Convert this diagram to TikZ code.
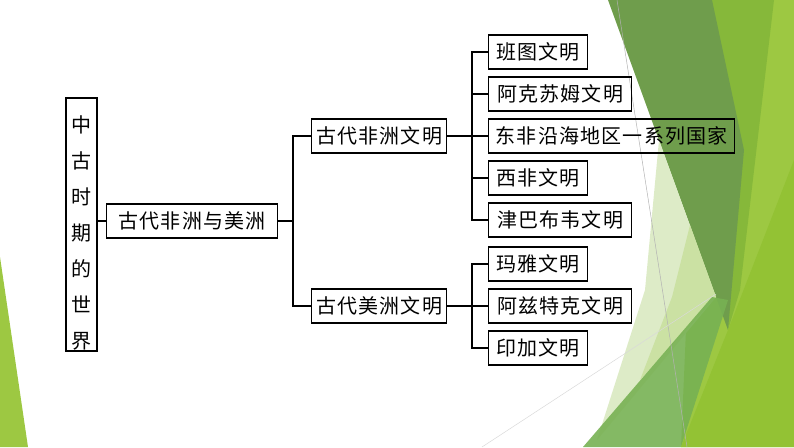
\documentclass[tikz,border=0pt]{standalone}
\usepackage{fontspec}
\newfontfamily\cjk[LetterSpace=6]{Noto Sans CJK SC}
\definecolor{leafdark}{HTML}{6F9D4C}
\definecolor{leafmid}{HTML}{86B83A}
\definecolor{leaflime}{HTML}{9DC842}
\definecolor{leafpale}{HTML}{DDEBC7}
\definecolor{leafpaler}{HTML}{CBE1A3}
\definecolor{leafgrass}{HTML}{77B153}
\definecolor{leafyellow}{HTML}{93C234}
\tikzset{
  box/.style={draw, line width=1.3pt, inner sep=0pt, minimum height=34pt, anchor=west,
    font=\cjk\fontsize{20}{24}\selectfont},
  link/.style={line width=1.3pt},
  hair/.style={line width=0.5pt, color=black!30},
}

\begin{document}
\begin{tikzpicture}[x=1pt,y=-1pt]
  \useasboundingbox (0,0) rectangle (794,447);
  %%%%% BACKGROUND %%%%%

  \fill[leaflime] (700,0) -- (794,0) -- (794,447) -- (681,447) -- cycle;
  \fill[leafmid] (712,0) -- (774,0) -- (740,290) -- (728,330) -- cycle;
  \fill[leafdark] (608,0) -- (712,0) -- (744,150) -- (728,330) -- cycle;
  \fill[leafpale] (659,140) -- (645,290) -- (597,440) -- (716,297) -- cycle;
  \fill[leafpaler] (690,225) -- (672,297) -- (640,380) -- (716,297) -- cycle;
  \fill[leafgrass, opacity=0.9] (583,447) -- (712,297) -- (728,300) -- (681,447) -- cycle;
  \fill[leafyellow] (681,447) -- (728,330) -- (794,160) -- (794,447) -- cycle;
  \fill[leaflime] (0,257) -- (0,447) -- (28,447) -- cycle;

  \draw[hair] (617,0) -- (687,447);
  \draw[hair, color=black!15] (482,447) -- (716,294);

  %%%%% TREE %%%%%

  \node[draw, line width=1.3pt, inner sep=0pt, minimum width=31pt, minimum height=253pt,
    align=center, font=\cjk\fontsize{20}{36}\selectfont] (world) at (81.5,224.5)
    {\rule{0pt}{17pt}\\[-20pt]中\\古\\时\\期\\的\\世\\界};

  \node[box, minimum width=171pt] (afram) at (106,221) {古代非洲与美洲};

  \node[box, minimum width=135pt] (africa) at (311,136) {古代非洲文明};
  \node[box, minimum width=135pt] (america) at (311,306) {古代美洲文明};

  \node[box, minimum width=99pt] (bantu) at (488,52) {班图文明};
  \node[box, minimum width=143pt] (aksum) at (488,94) {阿克苏姆文明};
  \node[box, minimum width=246pt] (eastcoast) at (488,136) {东非沿海地区一系列国家};
  \node[box, minimum width=99pt] (westaf) at (488,178) {西非文明};
  \node[box, minimum width=143pt] (zimb) at (488,220) {津巴布韦文明};

  \node[box, minimum width=99pt] (maya) at (488,264) {玛雅文明};
  \node[box, minimum width=143pt] (aztec) at (488,306) {阿兹特克文明};
  \node[box, minimum width=99pt] (inca) at (488,348) {印加文明};

  \coordinate (forkA) at (293,221);
  \coordinate (forkB) at (472,136);
  \coordinate (forkC) at (472,306);

  \draw[link] (afram.west) -- (afram.west -| world.east);
  \draw[link] (afram.east) -- (forkA);
  \draw[link] (africa.west) -| (forkA) |- (america.west);

  \draw[link] (africa.east) -- (forkB);
  \foreach \kid in {bantu,aksum,eastcoast,westaf,zimb}
    \draw[link] (forkB) |- (\kid.west);

  \draw[link] (america.east) -- (forkC);
  \foreach \kid in {maya,aztec,inca}
    \draw[link] (forkC) |- (\kid.west);

  %%%%% END %%%%%
\end{tikzpicture}
\end{document}
